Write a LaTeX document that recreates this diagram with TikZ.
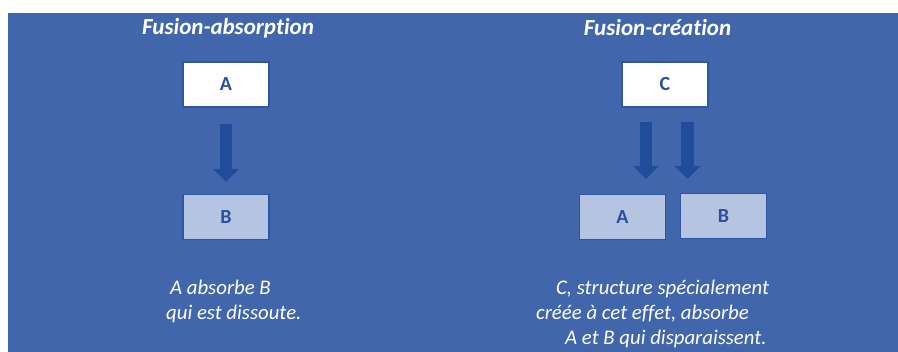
\documentclass[tikz,border=0pt]{standalone}
\usepackage{fontspec}
\setmainfont{Carlito}[Ligatures=NoCommon]
\usetikzlibrary{arrows.meta}
\definecolor{bgblue}{HTML}{4166AB}
\definecolor{arrblue}{HTML}{1F4D9C}
\definecolor{edgeblue}{HTML}{2C57A4}
\definecolor{lightbox}{HTML}{B4C4E1}
\definecolor{lettblue}{HTML}{2A50A0}
\begin{document}
\begin{tikzpicture}[x=1pt,y=-1pt,
  box/.style={draw=edgeblue,line width=1.2pt,minimum width=86pt,minimum height=45pt,inner sep=0pt,
    font=\fontsize{20}{20}\selectfont\bfseries,text=lettblue},
  whitebox/.style={box,fill=white},
  palebox/.style={box,fill=lightbox},
  title/.style={text=white,font=\fontsize{23}{23}\selectfont\bfseries\itshape,inner sep=0pt},
  caption/.style={text=white,font=\fontsize{20.8}{20.8}\selectfont\itshape,inner sep=0pt,anchor=base west},
  bigarrow/.style={draw=arrblue,line width=12.5pt,-{Triangle[width=25pt,length=13pt]}}]
\useasboundingbox (0,0) rectangle (898,352);
\fill[white] (0,0) rectangle (898,352);
\fill[bgblue] (8,13) rectangle (898,352);
% left
\node[title] (t1) at (228,28) {Fusion-absorption};
\node[whitebox] (A1) at (226,84.5) {A};
\node[palebox] (B1) at (226,217) {B};
\draw[bigarrow] ([yshift=-16pt]A1.south) -- ([yshift=12pt]B1.north);
\node[caption] (c1) at (170,295) {A absorbe B};
\node[caption] (c2) at (166,320) {qui est dissoute.};
% right
\node[title] (t2) at (657.5,28) {Fusion-création};
\node[whitebox] (C) at (665,84.5) {C};
\node[palebox] (A2) at (622.5,217) {A};
\node[palebox] (B2) at (723.5,216) {B};
\coordinate (e1) at (646,179);
\coordinate (e2) at (687.5,179);
\draw[bigarrow] (646,122) -- (e1);
\draw[bigarrow] (687.5,122) -- (e2);
\node[caption] (c3) at (556,295) {C, structure spécialement};
\node[caption] (c4) at (536,320) {créée à cet effet, absorbe};
\node[caption] (c5) at (565,345) {A et B qui disparaissent.};
\end{tikzpicture}
\end{document}
